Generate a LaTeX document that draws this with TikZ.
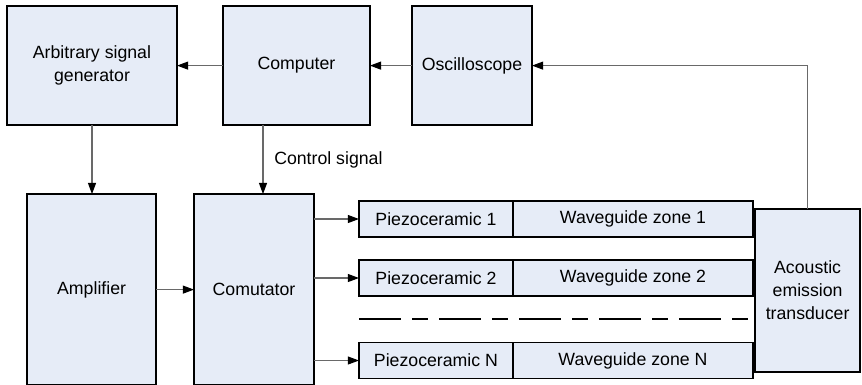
\documentclass[tikz,border=0pt]{standalone}
\usepackage{fontspec}
\setmainfont{Liberation Sans}
\usepackage{tikz}
\usetikzlibrary{arrows.meta, positioning, calc}
\definecolor{boxfill}{RGB}{230,236,247}
\definecolor{wiregray}{RGB}{105,105,105}

\begin{document}
\begin{tikzpicture}[
    block/.style={draw=black, fill=boxfill, line width=1.4pt, outer sep=0pt, align=center, font=\fontsize{12.6}{16.5}\selectfont},
    wire/.style={draw=wiregray, line width=0.8pt, -{Triangle[length=0.28cm, width=0.2cm, color=black]}},
    sepline/.style={line width=1.4pt, dash pattern=on 1.05cm off 0.275cm on 0.4cm off 0.275cm}
    ]
        \clip (0,0) rectangle (21.55,-9.6);

        % Top row
        \node[block, minimum width=4.25cm, minimum height=2.975cm] (asg) at (2.3,-1.64) {Arbitrary signal\\generator};
        \node[block, minimum width=3.675cm, minimum height=2.975cm] (comp) at (7.41,-1.64) {Computer};
        \node[block, minimum width=3cm, minimum height=2.975cm] (osc) at (11.8,-1.64) {Oscilloscope};

        % Lower row
        \node[block, minimum width=3.225cm, minimum height=4.775cm] (amp) at (2.29,-7.24) {Amplifier};
        \node[block, minimum width=3cm, minimum height=4.775cm] (comut) at (6.35,-7.24) {Comutator};

        % Channels
        \node[block, minimum width=3.85cm, minimum height=0.9cm] (p1) at (10.9,-5.475) {Piezoceramic 1};
        \node[block, minimum width=6cm, minimum height=0.9cm, right=0cm of p1] (w1) {Waveguide zone 1};
        \node[block, minimum width=3.85cm, minimum height=0.9cm] (p2) at (10.9,-6.95) {Piezoceramic 2};
        \node[block, minimum width=6cm, minimum height=0.9cm, right=0cm of p2] (w2) {Waveguide zone 2};
        \node[block, minimum width=3.85cm, minimum height=0.9cm] (pN) at (10.9,-9.0125) {Piezoceramic N};
        \node[block, minimum width=6cm, minimum height=0.9cm, right=0cm of pN] (wN) {Waveguide zone N};
        \draw[sepline] ($(p2.south west)!0.5!(pN.north west)$) -- ($(w2.south east)!0.5!(wN.north east)$);

        % Transducer
        \node[block, minimum width=2.625cm, minimum height=4.075cm] (trans) at (20.19,-7.26) {Acoustic\\emission\\transducer};

        % Connecting arrows
        \draw[wire] (comp) -- (asg);
        \draw[wire] (osc) -- (comp);
        \draw[wire] (trans.north) |- (osc.east);
        \draw[wire] (asg.south) -- (asg.south |- amp.north);
        \draw[wire] ([xshift=0.225cm]comut.north |- comp.south) -- node[midway, right=0.15cm] {\fontsize{12.6}{15}\selectfont Control signal} ([xshift=0.225cm]comut.north);
        \draw[wire] (amp.east) -- (comut.west);
        \draw[wire] (comut.east |- p1.west) -- (p1.west);
        \draw[wire] (comut.east |- p2.west) -- (p2.west);
        \draw[wire] (comut.east |- pN.west) -- (pN.west);
    \end{tikzpicture}
\end{document}
